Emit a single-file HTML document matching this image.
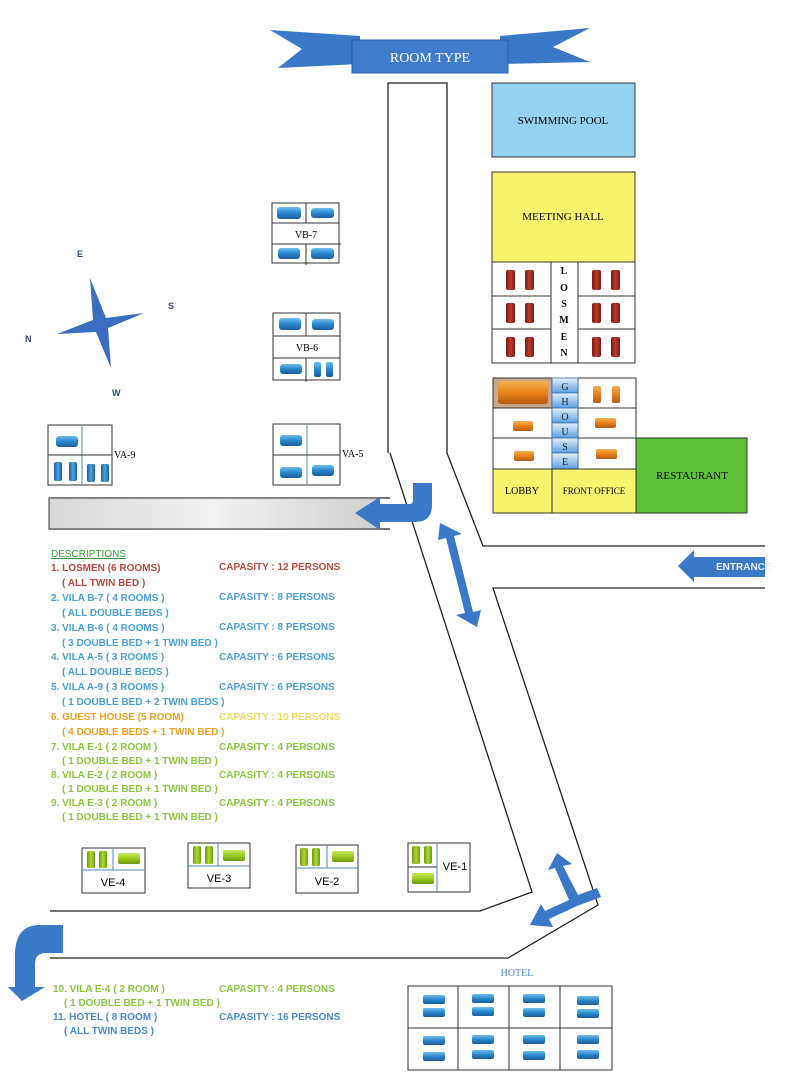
<!DOCTYPE html>
<html><head><meta charset="utf-8"><style>
html,body{margin:0;padding:0;background:#fff;}
svg{display:block;}
.d{font-family:"Liberation Sans",sans-serif;font-size:10px;font-weight:bold;}
.s{font-family:"Liberation Serif",serif;}
</style></head><body>
<svg width="800" height="1077" viewBox="0 0 800 1077" xmlns="http://www.w3.org/2000/svg">
<defs>
<linearGradient id="gb" x1="0" y1="0" x2="0" y2="1"><stop offset="0" stop-color="#6cc0f0"/><stop offset="0.5" stop-color="#2a86cc"/><stop offset="1" stop-color="#1a5e9c"/></linearGradient>
<linearGradient id="gr" x1="0" y1="0" x2="1" y2="0"><stop offset="0" stop-color="#7a1a14"/><stop offset="0.5" stop-color="#c0392b"/><stop offset="1" stop-color="#7a1a14"/></linearGradient>
<linearGradient id="go" x1="0" y1="0" x2="0" y2="1"><stop offset="0" stop-color="#f6b050"/><stop offset="0.5" stop-color="#e8821a"/><stop offset="1" stop-color="#b85a10"/></linearGradient>
<linearGradient id="gg" x1="0" y1="0" x2="0" y2="1"><stop offset="0" stop-color="#c8e860"/><stop offset="0.5" stop-color="#9ccc20"/><stop offset="1" stop-color="#6a9a10"/></linearGradient>
<linearGradient id="ggv" x1="0" y1="0" x2="1" y2="0"><stop offset="0" stop-color="#6a9a10"/><stop offset="0.5" stop-color="#b0dc30"/><stop offset="1" stop-color="#6a9a10"/></linearGradient>
<linearGradient id="gbv" x1="0" y1="0" x2="1" y2="0"><stop offset="0" stop-color="#1a5e9c"/><stop offset="0.5" stop-color="#4aa6e0"/><stop offset="1" stop-color="#1a5e9c"/></linearGradient>
<linearGradient id="gh" x1="0" y1="0" x2="0" y2="1"><stop offset="0" stop-color="#e6f2fc"/><stop offset="1" stop-color="#5a9ee0"/></linearGradient>
<linearGradient id="ggrey" x1="0" y1="0" x2="1" y2="0"><stop offset="0" stop-color="#d8d8d8"/><stop offset="0.5" stop-color="#f2f2f2"/><stop offset="1" stop-color="#d0d0d0"/></linearGradient>
</defs>

<!-- banner -->
<polygon points="270,30 360,36 360,64 278,68 302,49" fill="#3a78c8"/>
<polygon points="500,36 590,28 553,47 590,62 500,64" fill="#3a78c8"/>
<rect x="352" y="40" width="156" height="33" fill="#3f7ccc" stroke="#2a5ea8"/>
<text x="430" y="62" class="s" font-size="14" fill="#fff" text-anchor="middle">ROOM TYPE</text>

<!-- roads -->
<g fill="none" stroke="#222" stroke-width="1.3">
<polyline points="388,453 388,83 447,83 447,453 483,546 765,546"/>
<polyline points="390,453 532,892 480,911 50,911"/>
<polyline points="765,588 493,588 598,905 508,958 50,958"/>
<line x1="49" y1="498" x2="390" y2="498"/>
<line x1="49" y1="529" x2="390" y2="529"/>
</g>
<rect x="49" y="498" width="330" height="31" fill="url(#ggrey)" stroke="#333" stroke-width="1"/>

<!-- swimming pool / meeting hall -->
<rect x="492" y="83" width="143" height="74" fill="#93d2f0" stroke="#333"/>
<text x="563" y="124" class="s" font-size="11" text-anchor="middle">SWIMMING POOL</text>
<rect x="492" y="172" width="143" height="90" fill="#f8f46c" stroke="#333"/>
<text x="563" y="220" class="s" font-size="11" text-anchor="middle">MEETING HALL</text>
<!-- losmen -->
<g fill="#fff" stroke="#333">
<rect x="492" y="262" width="59" height="34"/><rect x="492" y="296" width="59" height="33"/><rect x="492" y="329" width="59" height="34"/>
<rect x="551" y="262" width="27" height="101"/>
<rect x="578" y="262" width="57" height="34"/><rect x="578" y="296" width="57" height="33"/><rect x="578" y="329" width="57" height="34"/>
</g>
<g fill="url(#gr)">
<rect x="506" y="270" width="9" height="20" rx="2"/><rect x="525" y="270" width="9" height="20" rx="2"/>
<rect x="506" y="303" width="9" height="20" rx="2"/><rect x="525" y="303" width="9" height="20" rx="2"/>
<rect x="506" y="337" width="9" height="20" rx="2"/><rect x="525" y="337" width="9" height="20" rx="2"/>
<rect x="592" y="270" width="9" height="20" rx="2"/><rect x="611" y="270" width="9" height="20" rx="2"/>
<rect x="592" y="303" width="9" height="20" rx="2"/><rect x="611" y="303" width="9" height="20" rx="2"/>
<rect x="592" y="337" width="9" height="20" rx="2"/><rect x="611" y="337" width="9" height="20" rx="2"/>
</g>
<g class="s" font-size="10" font-weight="bold" text-anchor="middle">
<text x="564" y="274">L</text><text x="564" y="291">O</text><text x="564" y="307">S</text><text x="564" y="323">M</text><text x="564" y="340">E</text><text x="564" y="356">N</text>
</g>

<!-- guest house -->
<g fill="#fff" stroke="#333">
<rect x="493" y="378" width="59" height="30" fill="#c8a888"/><rect x="493" y="408" width="59" height="30"/><rect x="493" y="438" width="59" height="31"/>
<rect x="578" y="378" width="58" height="30"/><rect x="578" y="408" width="58" height="30"/><rect x="578" y="438" width="58" height="31"/>
</g>
<g fill="url(#gh)" stroke="#3a6ea8" stroke-width="0.8">
<rect x="552" y="378" width="26" height="15"/><rect x="552" y="393" width="26" height="15"/><rect x="552" y="408" width="26" height="15"/>
<rect x="552" y="423" width="26" height="15"/><rect x="552" y="438" width="26" height="15"/><rect x="552" y="453" width="26" height="16"/>
</g>
<g class="s" font-size="10" text-anchor="middle" fill="#222">
<text x="565" y="390">G</text><text x="565" y="405">H</text><text x="565" y="420">O</text><text x="565" y="435">U</text><text x="565" y="450">S</text><text x="565" y="465">E</text>
</g>
<g fill="url(#go)">
<rect x="498" y="381" width="50" height="23" rx="3"/>
<rect x="513" y="421" width="20" height="10" rx="2"/>
<rect x="514" y="451" width="20" height="10" rx="2"/>
<rect x="593" y="386" width="8" height="17" rx="2"/><rect x="612" y="386" width="8" height="17" rx="2"/>
<rect x="595" y="418" width="21" height="10" rx="2"/>
<rect x="596" y="449" width="21" height="10" rx="2"/>
</g>
<rect x="493" y="469" width="59" height="44" fill="#f8f46c" stroke="#333"/>
<rect x="552" y="469" width="84" height="44" fill="#f8f46c" stroke="#333"/>
<text x="522" y="494" class="s" font-size="10" text-anchor="middle">LOBBY</text>
<text x="594" y="494" class="s" font-size="9" text-anchor="middle">FRONT OFFICE</text>
<rect x="636" y="438" width="111" height="75" fill="#5ec13a" stroke="#333"/>
<text x="692" y="479" class="s" font-size="11" text-anchor="middle">RESTAURANT</text>

<!-- entrance arrow -->
<polygon points="678,566 694,550 694,557 765,557 765,577 694,577 694,582" fill="#3a78c8"/>
<text x="716" y="570" class="d" font-weight="normal" font-size="9" fill="#e8f0ff">ENTRANCE</text>

<!-- compass -->
<polygon points="90,278 106,318 144,313 108,328 111,368 96,332 57,334 93,320" fill="#3a6ec0"/>
<g font-family="Liberation Sans,sans-serif" font-size="9" font-weight="bold" fill="#2a4e90">
<text x="77" y="257">E</text><text x="168" y="309">S</text><text x="25" y="342">N</text><text x="112" y="396">W</text>
</g>

<!-- VB-7 -->
<rect x="272" y="203" width="67" height="60" fill="#fff" stroke="#333"/>
<line x1="306" y1="203" x2="306" y2="223" stroke="#333"/><line x1="306" y1="244" x2="306" y2="265" stroke="#333"/>
<line x1="272" y1="223" x2="339" y2="223" stroke="#333"/><line x1="272" y1="244" x2="341" y2="244" stroke="#333"/>
<text x="306" y="238" class="s" font-size="10" text-anchor="middle">VB-7</text>
<g fill="url(#gb)">
<rect x="277" y="207" width="24" height="12" rx="3"/><rect x="311" y="208" width="23" height="10" rx="3"/>
<rect x="278" y="248" width="22" height="11" rx="3"/><rect x="311" y="248" width="23" height="11" rx="3"/>
</g>
<!-- VB-6 -->
<rect x="273" y="313" width="67" height="67" fill="#fff" stroke="#333"/>
<line x1="306" y1="313" x2="306" y2="336" stroke="#333"/><line x1="306" y1="358" x2="306" y2="382" stroke="#333"/>
<line x1="273" y1="336" x2="340" y2="336" stroke="#333"/><line x1="273" y1="358" x2="340" y2="358" stroke="#333"/>
<text x="307" y="351" class="s" font-size="10" text-anchor="middle">VB-6</text>
<g fill="url(#gb)">
<rect x="279" y="318" width="22" height="12" rx="3"/><rect x="312" y="319" width="22" height="11" rx="3"/>
<rect x="280" y="364" width="22" height="10" rx="3"/>
<rect x="314" y="362" width="7" height="15" rx="2"/><rect x="326" y="362" width="7" height="15" rx="2"/>
</g>
<!-- VA-5 -->
<rect x="273" y="424" width="67" height="61" fill="#fff" stroke="#333"/>
<line x1="307" y1="424" x2="307" y2="485" stroke="#4a8ac8"/><line x1="273" y1="455" x2="340" y2="455" stroke="#333"/>
<text x="342" y="457" class="s" font-size="10">VA-5</text>
<g fill="url(#gb)">
<rect x="280" y="435" width="22" height="11" rx="3"/>
<rect x="280" y="467" width="22" height="11" rx="3"/><rect x="312" y="465" width="22" height="11" rx="3"/>
</g>
<!-- VA-9 -->
<rect x="48" y="425" width="64" height="60" fill="#fff" stroke="#333"/>
<line x1="82" y1="425" x2="82" y2="485" stroke="#4a8ac8"/><line x1="48" y1="455" x2="112" y2="455" stroke="#333"/>
<text x="114" y="458" class="s" font-size="10">VA-9</text>
<g fill="url(#gbv)">
<rect x="56" y="436" width="22" height="11" rx="3" fill="url(#gb)"/>
<rect x="54" y="462" width="8" height="19" rx="2"/><rect x="69" y="462" width="8" height="19" rx="2"/>
<rect x="87" y="464" width="8" height="18" rx="2"/><rect x="101" y="464" width="8" height="18" rx="2"/>
</g>

<!-- blue arrows -->
<path d="M413,483 L432,483 L432,505 Q432,522 415,522 L380,522 L380,530 L355,513 L380,497 L380,504 L410,504 Q413,504 413,500 Z" fill="#3a78c8"/>
<g fill="#3a78c8">
<polygon points="440,523 462,534 454,536 473,612 481,610 477,627 456,615 465,613 446,538 438,540"/>
<polygon points="557,853 572,864 563,866 578,895 597,888 601,897 577,906 549,919 553,927 530,925 541,904 545,911 569,900 555,868 548,870"/>
<path d="M63,925 L63,953 L46,953 Q35,953 35,964 L35,987 L45,987 L22,1001 L8,987 L15,987 L15,955 Q15,925 40,925 Z"/>
</g>

<!-- descriptions -->
<g class="d">
<text x="51" y="557" fill="#3a9a40" text-decoration="underline" font-weight="normal">DESCRIPTIONS</text>
<g fill="#b84a40"><text x="51" y="571">1. LOSMEN (6 ROOMS)</text><text x="62" y="586">( ALL TWIN BED )</text><text x="219" y="570">CAPASITY : 12 PERSONS</text></g>
<g fill="#4a9fd4">
<text x="51" y="601">2. VILA B-7  ( 4 ROOMS )</text><text x="62" y="616">( ALL DOUBLE BEDS )</text><text x="219" y="600">CAPASITY : 8 PERSONS</text>
<text x="51" y="631">3. VILA B-6  ( 4 ROOMS )</text><text x="62" y="646">( 3 DOUBLE BED +  1 TWIN BED )</text><text x="219" y="630">CAPASITY : 8 PERSONS</text>
<text x="51" y="660">4. VILA A-5  ( 3 ROOMS )</text><text x="62" y="675">( ALL DOUBLE BEDS )</text><text x="219" y="660">CAPASITY : 6 PERSONS</text>
<text x="51" y="690">5. VILA A-9  ( 3 ROOMS )</text><text x="62" y="705">( 1 DOUBLE BED + 2 TWIN BEDS )</text><text x="219" y="690">CAPASITY : 6 PERSONS</text>
</g>
<g fill="#f0a020"><text x="51" y="720">6. GUEST HOUSE  (5 ROOM)</text><text x="62" y="735">( 4 DOUBLE BEDS + 1 TWIN BED )</text></g>
<text x="219" y="720" fill="#f0d860">CAPASITY : 10 PERSONS</text>
<g fill="#8cc63f">
<text x="51" y="750">7. VILA E-1 ( 2 ROOM )</text><text x="62" y="764">( 1 DOUBLE BED + 1 TWIN BED )</text><text x="219" y="750">CAPASITY : 4 PERSONS</text>
<text x="51" y="778">8. VILA E-2 ( 2 ROOM )</text><text x="62" y="792">( 1 DOUBLE BED + 1 TWIN BED )</text><text x="219" y="778">CAPASITY : 4 PERSONS</text>
<text x="51" y="806">9. VILA E-3 ( 2 ROOM )</text><text x="62" y="820">( 1 DOUBLE BED + 1 TWIN BED )</text><text x="219" y="806">CAPASITY : 4 PERSONS</text>
<text x="53" y="992">10. VILA E-4 ( 2 ROOM )</text><text x="64" y="1006">( 1 DOUBLE BED + 1 TWIN BED )</text><text x="219" y="992">CAPASITY : 4 PERSONS</text>
</g>
<g fill="#4a8ad0">
<text x="53" y="1020">11. HOTEL  ( 8 ROOM )</text><text x="64" y="1034">( ALL TWIN BEDS )</text><text x="219" y="1020">CAPASITY : 16 PERSONS</text>
</g>
</g>

<!-- VE villas -->
<g stroke="#333" fill="#fff">
<rect x="82" y="848" width="63" height="45"/>
<rect x="188" y="843" width="62" height="45"/>
<rect x="296" y="845" width="62" height="48"/>
<rect x="408" y="843" width="62" height="49"/>
</g>
<g stroke="#4a8ac8" fill="none">
<line x1="82" y1="870" x2="145" y2="870"/><line x1="113" y1="848" x2="113" y2="870"/>
<line x1="188" y1="866" x2="250" y2="866"/><line x1="218" y1="843" x2="218" y2="866"/>
<line x1="296" y1="868" x2="358" y2="868"/><line x1="327" y1="845" x2="327" y2="868"/>
<line x1="408" y1="867" x2="437" y2="867" stroke="#333"/><line x1="437" y1="843" x2="437" y2="892"/>
</g>
<g font-family="Liberation Sans,sans-serif" font-size="11" text-anchor="middle">
<text x="113" y="886">VE-4</text><text x="219" y="882">VE-3</text><text x="327" y="885">VE-2</text><text x="455" y="870">VE-1</text>
</g>
<g fill="url(#ggv)">
<rect x="87" y="851" width="8" height="17" rx="2"/><rect x="99" y="851" width="8" height="17" rx="2"/>
<rect x="193" y="846" width="8" height="18" rx="2"/><rect x="205" y="846" width="8" height="18" rx="2"/>
<rect x="300" y="848" width="8" height="18" rx="2"/><rect x="312" y="848" width="8" height="18" rx="2"/>
<rect x="412" y="846" width="8" height="18" rx="2"/><rect x="424" y="846" width="8" height="18" rx="2"/>
</g>
<g fill="url(#gg)">
<rect x="118" y="853" width="22" height="11" rx="2"/>
<rect x="223" y="850" width="22" height="11" rx="2"/>
<rect x="332" y="851" width="22" height="11" rx="2"/>
<rect x="412" y="873" width="22" height="11" rx="2"/>
</g>

<!-- hotel -->
<text x="517" y="976" class="s" font-size="10" fill="#4a8ad0" text-anchor="middle">HOTEL</text>
<rect x="408" y="986" width="204" height="84" fill="#fff" stroke="#333"/>
<g stroke="#333"><line x1="408" y1="1028" x2="612" y2="1028"/><line x1="458" y1="986" x2="458" y2="1070"/><line x1="509" y1="986" x2="509" y2="1070"/><line x1="560" y1="986" x2="560" y2="1070"/></g>
<g fill="url(#gb)">
<rect x="423" y="995" width="22" height="9" rx="2"/><rect x="423" y="1008" width="22" height="9" rx="2"/>
<rect x="472" y="994" width="22" height="9" rx="2"/><rect x="472" y="1007" width="22" height="9" rx="2"/>
<rect x="523" y="994" width="22" height="9" rx="2"/><rect x="523" y="1008" width="22" height="9" rx="2"/>
<rect x="577" y="996" width="22" height="9" rx="2"/><rect x="577" y="1009" width="22" height="9" rx="2"/>
<rect x="423" y="1036" width="22" height="9" rx="2"/><rect x="423" y="1052" width="22" height="9" rx="2"/>
<rect x="472" y="1035" width="22" height="9" rx="2"/><rect x="472" y="1050" width="22" height="9" rx="2"/>
<rect x="523" y="1035" width="22" height="9" rx="2"/><rect x="523" y="1051" width="22" height="9" rx="2"/>
<rect x="577" y="1035" width="22" height="9" rx="2"/><rect x="577" y="1050" width="22" height="9" rx="2"/>
</g>
</svg>
</body></html>
